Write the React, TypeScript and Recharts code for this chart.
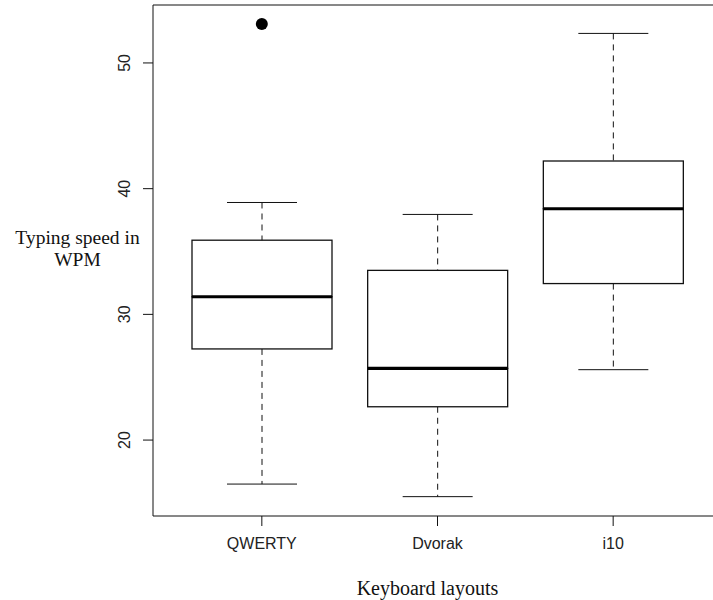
import React from 'react';
import { ComposedChart, Bar, Scatter, XAxis, YAxis, ReferenceLine, Label } from 'recharts';

// five-number summaries per keyboard layout (WPM)
const layouts = ['QWERTY', 'Dvorak', 'i10'];
const whiskerLow = [16.5, 15.5, 25.6];
const lowerQuartile = [27.25, 22.65, 32.45];
const medians = [31.4, 25.7, 38.4];
const upperQuartile = [35.9, 33.5, 42.2];
const whiskerHigh = [38.9, 37.95, 52.35];
const outliers: (number | null)[] = [53.1, null, null];
const yTicks = [20, 30, 40, 50];

const Y_MIN = 13.96;
const Y_MAX = 54.61;

const SANS = '"Liberation Sans", Arial, sans-serif';
const SERIF = '"Liberation Serif", "Times New Roman", serif';
const INK = '#111';

// stacked segments: invisible base, lower whisker, lower box, upper box, upper whisker
const data = layouts.map((name, i) => ({
  name,
  base: whiskerLow[i],
  lowWhisker: lowerQuartile[i] - whiskerLow[i],
  lowBox: medians[i] - lowerQuartile[i],
  highBox: upperQuartile[i] - medians[i],
  highWhisker: whiskerHigh[i] - upperQuartile[i],
  outlier: outliers[i],
}));

const Empty = () => <g />;

const whisker = (capAtTop: boolean) => (props: any) => {
  const { x, y, width, height } = props;
  const cx = x + width / 2;
  const capY = capAtTop ? y : y + height;
  return (
    <g>
      <line x1={cx} x2={cx} y1={y} y2={y + height} stroke={INK} strokeDasharray="6 5" />
      <line x1={cx - width / 4} x2={cx + width / 4} y1={capY} y2={capY} stroke={INK} />
    </g>
  );
};

const LowerBox = (props: any) => {
  const { x, y, width, height } = props;
  return <rect x={x} y={y} width={width} height={height} fill="#fff" stroke={INK} strokeWidth={1.3} />;
};

// upper half of the box; the median sits on its bottom edge
const UpperBox = (props: any) => {
  const { x, y, width, height } = props;
  return (
    <g>
      <rect x={x} y={y} width={width} height={height} fill="#fff" stroke={INK} strokeWidth={1.3} />
      <line x1={x} x2={x + width} y1={y + height} y2={y + height} stroke="#000" strokeWidth={3.2} />
    </g>
  );
};

const OutlierDot = (props: any) => {
  const { cx, cy, payload } = props;
  if (payload == null || payload.outlier == null) return <g />;
  return <circle cx={cx} cy={cy} r={6} fill="#000" />;
};

const YTick = ({ x, y, payload }: any) => (
  <text
    x={0}
    y={0}
    transform={`translate(${x},${y}) rotate(-90)`}
    textAnchor="middle"
    fontSize={16}
    fontFamily={SANS}
    fill="#222"
  >
    {payload.value}
  </text>
);

export default function App() {
  return (
    <div style={{ position: 'absolute', left: 0, top: 0, width: 713, height: 600, overflow: 'hidden', background: '#fff' }}>
      <ComposedChart width={730} height={600} data={data} margin={{ top: 5, right: 8, bottom: 0, left: 0 }}>
        <XAxis
          dataKey="name"
          padding={{ left: 21, right: 21 }}
          height={84}
          tickSize={10}
          tickMargin={12}
          stroke={INK}
          tick={{ fontSize: 16, fontFamily: SANS, fill: '#222' }}
        >
          <Label
            content={(p: any) => (
              <text
                x={p.viewBox.x + p.viewBox.width / 2 - 10}
                y={p.viewBox.y + 79}
                textAnchor="middle"
                fontSize={20}
                fontFamily={SERIF}
                fill="#111"
              >
                Keyboard layouts
              </text>
            )}
          />
        </XAxis>
        <YAxis
          type="number"
          domain={[Y_MIN, Y_MAX]}
          allowDataOverflow
          ticks={yTicks}
          width={153}
          tickSize={10}
          tickMargin={13}
          stroke={INK}
          tick={<YTick />}
        >
          <Label
            content={() => (
              <g fontSize={19.5} fontFamily={SERIF} fill="#111" textAnchor="middle">
                <text x={77.5} y={244}>Typing speed in</text>
                <text x={77.5} y={266}>WPM</text>
              </g>
            )}
          />
        </YAxis>
        <ReferenceLine y={Y_MAX} stroke={INK} />
        <Bar dataKey="base" stackId="box" barSize={140} shape={<Empty />} isAnimationActive={false} />
        <Bar dataKey="lowWhisker" stackId="box" barSize={140} shape={whisker(false)} isAnimationActive={false} />
        <Bar dataKey="lowBox" stackId="box" barSize={140} shape={LowerBox} isAnimationActive={false} />
        <Bar dataKey="highBox" stackId="box" barSize={140} shape={UpperBox} isAnimationActive={false} />
        <Bar dataKey="highWhisker" stackId="box" barSize={140} shape={whisker(true)} isAnimationActive={false} />
        <Scatter dataKey="outlier" shape={OutlierDot} isAnimationActive={false} />
      </ComposedChart>
    </div>
  );
}
